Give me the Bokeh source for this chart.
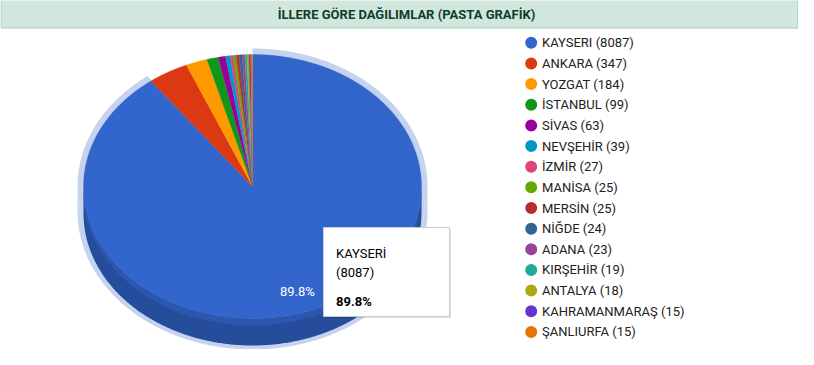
import math
from bokeh.plotting import figure
from bokeh.models import Range1d
from bokeh.core.properties import value
from bokeh.embed import file_html
from bokeh.resources import INLINE

# ---- data ----
provinces = ["KAYSERİ", "ANKARA", "YOZGAT", "İSTANBUL", "SİVAS", "NEVŞEHİR", "İZMİR",
             "MANİSA", "MERSİN", "NİĞDE", "ADANA", "KIRŞEHİR", "ANTALYA",
             "KAHRAMANMARAŞ", "ŞANLIURFA"]
legend_names = ["KAYSERI", "ANKARA", "YOZGAT", "İSTANBUL", "SİVAS", "NEVŞEHİR", "İZMİR",
                "MANİSA", "MERSİN", "NİĞDE", "ADANA", "KIRŞEHİR", "ANTALYA",
                "KAHRAMANMARAŞ", "ŞANLIURFA"]
counts = [8087, 347, 184, 99, 63, 39, 27, 25, 25, 24, 23, 19, 18, 15, 15]
colors = ["#3366cc", "#dc3912", "#ff9900", "#109618", "#990099", "#0099c6", "#dd4477",
          "#66aa00", "#b82e2e", "#316395", "#994499", "#22aa99", "#aaaa11",
          "#6633cc", "#e67300"]
title_text = "İLLERE GÖRE DAĞILIMLAR (PASTA GRAFİK)"
highlight = 0  # hovered slice

# ---- layout constants (screen pixels, y downwards) ----
CX, CY, RX, RY, DEPTH = 252.0, 186.0, 169.0, 132.0, 27.0
RING = 6.0
FONT = value("Roboto")

p = figure(width=798, height=349, output_backend="svg", toolbar_location=None,
           x_range=Range1d(0, 798), y_range=Range1d(349, 0),
           x_axis_type=None, y_axis_type=None, min_border=0)
p.grid.visible = False
p.outline_line_color = None
p.background_fill_color = "white"
p.border_fill_color = "white"

total = float(sum(counts))
angles = []
acc = 0.0
for c in counts:
    a0 = acc
    acc += 360.0 * c / total
    angles.append((a0, acc))


def pt(theta, rx, ry, dy=0.0):
    t = math.radians(theta)
    return CX + rx * math.sin(t), CY + dy - ry * math.cos(t)


def arc(a0, a1, rx, ry, dy=0.0, n=None):
    if n is None:
        n = max(2, int(abs(a1 - a0) * 2) + 2)
    xs, ys = [], []
    for i in range(n + 1):
        x, y = pt(a0 + (a1 - a0) * i / n, rx, ry, dy)
        xs.append(x)
        ys.append(y)
    return xs, ys


def sector(a0, a1, rx, ry):
    xs, ys = arc(a0, a1, rx, ry)
    return [CX] + xs, [CY] + ys


def side(a0, a1, rx, ry, d):
    s0, s1 = max(a0, 90.0), min(a1, 270.0)
    if s1 <= s0:
        return None
    tx, ty = arc(s0, s1, rx, ry)
    bx, by = arc(s1, s0, rx, ry, d)
    return tx + bx, ty + by


def darker(hexc, f):
    r, g, b = int(hexc[1:3], 16), int(hexc[3:5], 16), int(hexc[5:7], 16)
    return "#%02x%02x%02x" % (int(r * f), int(g * f), int(b * f))


# header
p.quad(left=0.5, right=797.5, top=-1, bottom=27.5, fill_color="#d1e7dd", line_color="#a3cfbb")
p.text(x=[406], y=[14], text=[title_text], text_font=FONT,
       text_font_style="bold", text_font_size="13px", text_color="#0f3d2a",
       text_align="center", text_baseline="middle")

# highlight ring (behind)
h0, h1 = angles[highlight]
rx_, ry_ = sector(h0, h1, RX + RING, RY + RING)
p.patch(rx_, ry_, fill_color="#c5d3ee", line_color=None)
sd = side(h0, h1, RX + RING, RY + RING, DEPTH - 2)
if sd:
    p.patch(sd[0], sd[1], fill_color="#c5d3ee", line_color=None)

# 3D side
for (a0, a1), col in zip(angles, colors):
    sd = side(a0, a1, RX, RY, DEPTH)
    if sd:
        p.patch(sd[0], sd[1], fill_color=darker(col, 0.76), line_color=None)
    sd2 = side(a0, a1, RX, RY, 7)
    if sd2:
        p.patch(sd2[0], sd2[1], fill_color=darker(col, 0.86), line_color=None)

# top faces
xs_all, ys_all = [], []
for (a0, a1) in angles:
    xs, ys = sector(a0, a1, RX, RY)
    xs_all.append(xs)
    ys_all.append(ys)
p.patches(xs_all, ys_all, fill_color=colors, line_color=colors, line_width=0.3)

# slice label
pct = [100.0 * c / total for c in counts]
mid = (h0 + h1) / 2.0
lx, ly = pt(mid, RX * 0.84, RY * 0.84)
p.text(x=[lx], y=[ly], text=["%.1f%%" % pct[highlight]], text_font=FONT,
       text_font_size="13px", text_color="white", text_align="center",
       text_baseline="middle")

# tooltip
p.quad(left=324.5, right=450.5, top=228.5, bottom=317.5, fill_color="#000000",
       fill_alpha=0.12, line_color=None)
p.quad(left=323, right=449, top=227, bottom=316, fill_color="white",
       line_color="#cccccc", line_width=1)
p.text(x=[335.5, 335.5], y=[252.5, 271.5],
       text=[provinces[highlight], "(%d)" % counts[highlight]], text_font=FONT,
       text_font_size="13px", text_color="#000000", text_baseline="alphabetic")
p.text(x=[335.5], y=[301], text=["%.1f%%" % pct[highlight]], text_font=FONT,
       text_font_size="13px", text_font_style="bold", text_color="#000000",
       text_baseline="alphabetic")

# legend
ly0, lstep = 42.3, 20.65
leg_y = [ly0 + i * lstep for i in range(len(counts))]
p.scatter(x=[530.7] * len(counts), y=leg_y, size=12, fill_color=colors,
          line_color=None)
p.text(x=[541.5] * len(counts), y=leg_y,
       text=["%s (%d)" % (n, c) for n, c in zip(legend_names, counts)],
       text_font=FONT, text_font_size="13px", text_color="#222222",
       text_baseline="middle")

open("out.html", "w").write(file_html(p, INLINE))
